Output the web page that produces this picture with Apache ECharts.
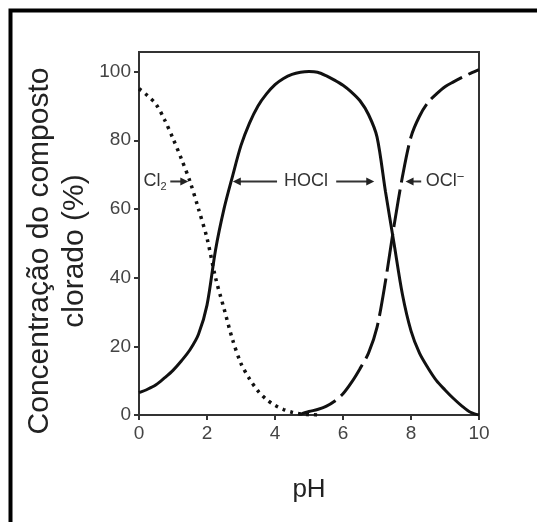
<!DOCTYPE html>
<html>
<head>
<meta charset="utf-8">
<script src="https://cdn.jsdelivr.net/npm/echarts@6/dist/echarts.min.js"></script>
<style>
  html, body { margin: 0; padding: 0; background: #fff; }
  #chart { width: 537px; height: 522px; }
</style>
</head>
<body>
<div id="chart"></div>
<script>
// pH grid used by the curves
var phCl2 = [0, 0.25, 0.5, 0.75, 1, 1.25, 1.5, 1.75, 2, 2.25, 2.5, 2.75, 3, 3.25, 3.5, 3.75, 4, 4.25, 4.5, 4.75, 5, 5.25];
var valCl2 = [95, 93, 90.5, 86, 80.5, 74.5, 68, 60, 51.5, 40, 31, 22, 15, 10.5, 7, 4.5, 2.8, 1.6, 0.8, 0.3, 0.1, 0];

var phHocl = [0, 0.25, 0.5, 0.75, 1, 1.25, 1.5, 1.75, 2, 2.25, 2.5, 2.75, 3, 3.25, 3.5, 3.75, 4, 4.25, 4.5, 4.75, 5,
              5.25, 5.5, 5.75, 6, 6.25, 6.5, 6.75, 7, 7.25, 7.5, 7.75, 8, 8.25, 8.5, 8.75, 9, 9.25, 9.5, 9.75, 10];
var valHocl = [6.5, 7.5, 8.8, 10.8, 13, 15.8, 19, 23.5, 32, 48, 60, 69.5, 78.5, 85, 90, 93.5, 96.2, 98, 99.2, 99.8, 100,
               99.8, 98.8, 97.5, 96, 94, 91.5, 87.5, 81, 65, 50, 35, 24.5, 18, 13.7, 10, 7.3, 4.8, 2.6, 0.8, 0];

var phOcl = [4.75, 5, 5.25, 5.5, 5.75, 6, 6.25, 6.5, 6.75, 7, 7.25, 7.5, 7.75, 8, 8.25, 8.5, 8.75, 9, 9.25, 9.5, 9.75, 10];
var valOcl = [0.2, 1, 1.6, 2.5, 4, 6.2, 9.5, 13.5, 18, 25.5, 39, 55, 69.5, 81, 87, 91, 93.5, 95.6, 97, 98.3, 99.5, 100.6];

var xTicks = [0, 2, 4, 6, 8, 10];
var yTicks = [0, 20, 40, 60, 80, 100];

// label positions (pH, %) for the arrow annotations
var labelY = 68;

var font = 'Liberation Sans, Arial, Helvetica, sans-serif';

function pairs(xs, ys) {
    return xs.map(function (x, i) { return [x, ys[i]]; });
}

var myChart = echarts.init(document.getElementById('chart'));

var option = {
    animation: false,
    backgroundColor: '#fff',
    grid: {
        left: 139, right: 58, top: 52, bottom: 107,
        show: true, borderColor: '#333', borderWidth: 2
    },
    xAxis: {
        type: 'value', min: 0, max: 10, interval: 2,
        name: 'pH', nameLocation: 'middle', nameGap: 62,
        nameTextStyle: { fontFamily: font, fontSize: 26, color: '#222' },
        axisLine: { lineStyle: { color: '#333', width: 2 } },
        axisTick: { length: 5, lineStyle: { color: '#333', width: 2 } },
        axisLabel: { fontFamily: font, fontSize: 19, color: '#444', margin: 9 },
        splitLine: { show: false }
    },
    yAxis: {
        type: 'value', min: 0, max: 105.7,
        axisLine: { lineStyle: { color: '#333', width: 2 } },
        axisTick: { length: 5, customValues: yTicks, lineStyle: { color: '#333', width: 2 } },
        axisLabel: { fontFamily: font, fontSize: 19, color: '#444', margin: 8, customValues: yTicks },
        splitLine: { show: false }
    },
    series: [
        {
            name: 'Cl2', type: 'line', data: pairs(phCl2, valCl2), smooth: 0.3,
            showSymbol: false, lineStyle: { color: '#111', width: 3.5, type: [3, 5] }
        },
        {
            name: 'HOCl', type: 'line', data: pairs(phHocl, valHocl), smooth: 0.3,
            showSymbol: false, lineStyle: { color: '#111', width: 3 }
        },
        {
            name: 'OCl-', type: 'line', data: pairs(phOcl, valOcl), smooth: 0.3,
            showSymbol: false, lineStyle: { color: '#111', width: 3, type: [38, 7] }
        }
    ]
};

myChart.setOption(option);

// annotations placed through the chart's own scales
function px(x, y) { return myChart.convertToPixel({ gridIndex: 0 }, [x, y]); }

function arrow(x0, x1) {
    var a = px(x0, labelY), b = px(x1, labelY);
    var dir = b[0] > a[0] ? 1 : -1;
    return [
        { type: 'line', shape: { x1: a[0], y1: a[1], x2: b[0] - dir * 6, y2: b[1] },
          style: { stroke: '#333', lineWidth: 2 } },
        { type: 'polygon', shape: { points: [[b[0], b[1]], [b[0] - dir * 8, b[1] - 4], [b[0] - dir * 8, b[1] + 4]] },
          style: { fill: '#222' } }
    ];
}

function label(x, text) {
    var p = px(x, labelY);
    return {
        type: 'text', x: p[0], y: p[1],
        style: {
            text: text, align: 'center', verticalAlign: 'middle',
            font: '18px ' + font, fill: '#333',
            rich: {
                sub: { fontSize: 11, fontFamily: font, fill: '#333', padding: [10, 0, 0, 0] },
                sup: { fontSize: 13, fontFamily: font, fill: '#333', padding: [0, 0, 8, 0] }
            }
        }
    };
}

var graphics = [
    { type: 'rect', shape: { x: 10.5, y: 10.5, width: 700, height: 700 },
      style: { fill: null, stroke: '#000', lineWidth: 4 } },
    { type: 'text', x: 40, y: 251, rotation: Math.PI / 2,
      style: { text: 'Concentração do composto', align: 'center', verticalAlign: 'middle',
               font: '30px ' + font, fill: '#222' } },
    { type: 'text', x: 75, y: 251, rotation: Math.PI / 2,
      style: { text: 'clorado (%)', align: 'center', verticalAlign: 'middle',
               font: '30px ' + font, fill: '#222' } },
    label(0.47, 'Cl{sub|2}'),
    label(4.91, 'HOCl'),
    label(9.0, 'OCl{sup|−}')
];
graphics = graphics
    .concat(arrow(0.92, 1.45))
    .concat(arrow(4.06, 2.76))
    .concat(arrow(5.8, 6.92))
    .concat(arrow(8.3, 7.84));

myChart.setOption({ graphic: graphics });
</script>
</body>
</html>
